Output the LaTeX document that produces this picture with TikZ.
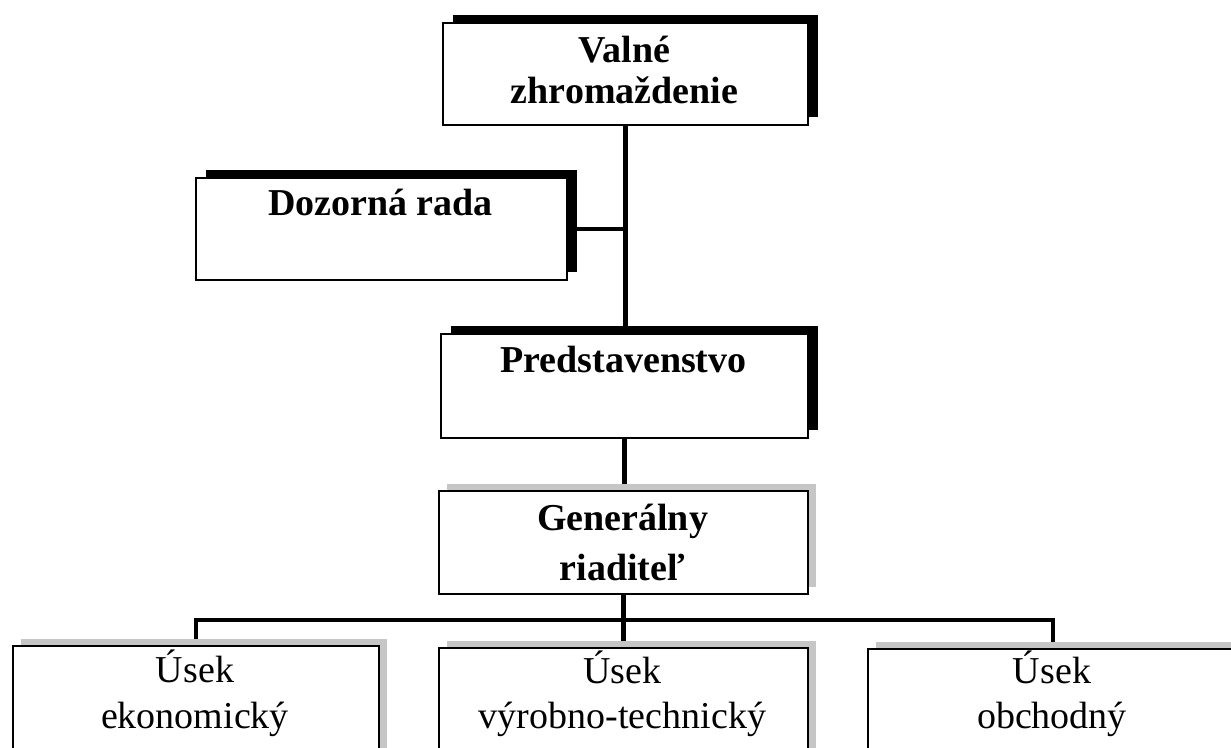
\documentclass[tikz,border=0pt]{standalone}
\usepackage{fontspec}
\setmainfont{Liberation Serif}
\usetikzlibrary{shadows,backgrounds}
\begin{document}
\begin{tikzpicture}[x=1pt,y=-1pt,
  box/.style={draw=black, line width=2pt, fill=white, inner sep=0pt, anchor=north west},
  blackshadow/.style={drop shadow={shadow xshift=10pt, shadow yshift=8pt, fill=black, opacity=1}},
  grayshadow/.style={drop shadow={shadow xshift=8pt, shadow yshift=7pt, fill=gray!45, opacity=1}},
  conn/.style={line width=4.5pt},
  bt/.style={font=\fontsize{38}{44}\selectfont\bfseries, anchor=base, inner sep=0pt},
  rt/.style={font=\fontsize{38}{44}\selectfont, anchor=base, inner sep=0pt}]
\useasboundingbox (0,0) rectangle (1231,747);
\clip (0,0) rectangle (1231,747);

% boxes
\node[box, blackshadow, minimum width=365pt, minimum height=102pt] (va) at (442,22) {};
\node[box, blackshadow, minimum width=371pt, minimum height=102pt] (dr) at (195,177) {};
\node[box, blackshadow, minimum width=367pt, minimum height=104pt] (pr) at (440,333) {};
\node[box, grayshadow, minimum width=369pt, minimum height=103pt] (gr) at (438,490) {};
\node[box, grayshadow, minimum width=366pt, minimum height=130pt] (ek) at (12,645) {};
\node[box, grayshadow, minimum width=369pt, minimum height=130pt] (vt) at (438,647) {};
\node[box, grayshadow, minimum width=370pt, minimum height=130pt] (ob) at (867,648) {};

% texts
\node[bt] (vaA) at (624.5,62) {Valné};
\node[bt] (vaB) at (624.5,103) {zhromaždenie};
\node[bt] (drA) at (380.5,215) {Dozorná rada};
\node[bt] (prA) at (623.5,372) {Predstavenstvo};
\node[bt] (grA) at (622.5,530) {Generálny};
\node[bt] (grB) at (622.5,580) {riaditeľ};
\node[rt] (ekA) at (195,682) {Úsek};
\node[rt] (ekB) at (195,728) {ekonomický};
\node[rt] (vtA) at (622.5,683) {Úsek};
\node[rt] (vtB) at (622.5,728) {výrobno-technický};
\node[rt] (obA) at (1052,683) {Úsek};
\node[rt] (obB) at (1052,728) {obchodný};

% connectors
\begin{pgfonlayer}{background}
\draw[conn] (va.south) -- (va.south |- pr.north);
\draw[conn] (dr.east) -- (dr.east -| va.south);
\draw[conn] (pr.south) -- (pr.south |- gr.north);
\coordinate (bus) at (622.5,620);
\draw[conn] (gr.south) -- (vt.north);
\draw[conn] (ek.north) |- (bus) -| (ob.north);
\end{pgfonlayer}
\end{tikzpicture}
\end{document}
